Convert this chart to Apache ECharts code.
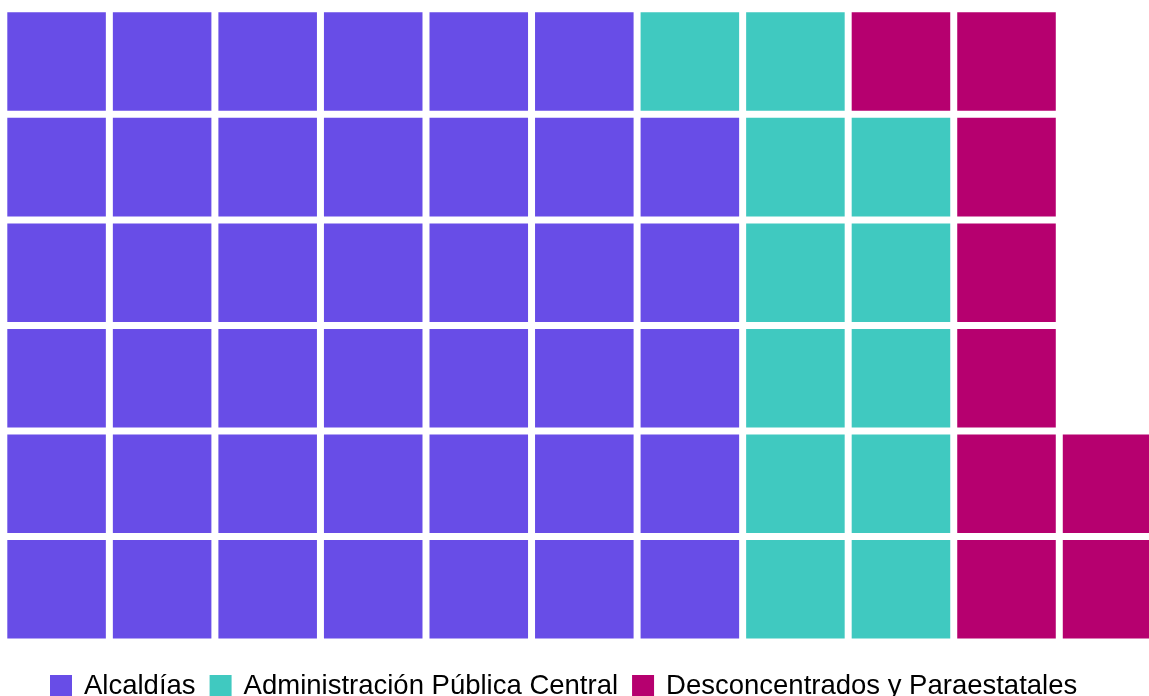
<!DOCTYPE html>
<html>
<head>
<meta charset="utf-8">
<script src="https://cdn.jsdelivr.net/npm/echarts@6/dist/echarts.min.js"></script>
<style>
html,body{margin:0;padding:0;background:#fff;}
#main{width:1149px;height:696px;}
</style>
</head>
<body>
<div id="main"></div>
<script>
// Waffle chart data
const categories = ['Alcaldías', 'Administración Pública Central', 'Desconcentrados y Paraestatales'];
const counts = [41, 12, 9];
const colors = ['#684DE7', '#40C9C0', '#B6006F'];
const nRows = 6;
const nCols = 11;

// build cell lists (filled column by column, bottom to top)
const cellsBySeries = [];
let k = 0;
for (let s = 0; s < counts.length; s++) {
  const arr = [];
  for (let i = 0; i < counts[s]; i++) {
    const col = Math.floor(k / nRows);
    const row = k % nRows;
    arr.push([col, row]);
    k++;
  }
  cellsBySeries.push(arr);
}

const GAP = 7;
function renderCell(params, api) {
  const c = api.coord([api.value(0), api.value(1)]);
  const sz = api.size([1, 1]);
  return {
    type: 'rect',
    shape: {
      x: c[0] - sz[0] / 2 + GAP / 2,
      y: c[1] - sz[1] / 2 + GAP / 2,
      width: sz[0] - GAP,
      height: sz[1] - GAP
    },
    style: { fill: api.visual('color') }
  };
}

const chart = echarts.init(document.getElementById('main'));
chart.setOption({
  animation: false,
  backgroundColor: '#ffffff',
  color: colors,
  grid: { left: 3.8, top: 8.8, right: 0, height: 633.3, containLabel: false },
  xAxis: { type: 'value', min: -0.5, max: 10.35, show: false },
  yAxis: { type: 'value', min: -0.5, max: nRows - 0.5, show: false },
  legend: {
    left: 45,
    top: 667,
    icon: 'rect',
    itemWidth: 22,
    itemHeight: 22,
    itemGap: 14,
    textStyle: { fontFamily: 'Liberation Sans, Arial, sans-serif', fontSize: 27.5, color: '#000', padding: [0, 0, 0, 7] },
    data: categories
  },
  series: categories.map((name, i) => ({
    name: name,
    type: 'custom',
    renderItem: renderCell,
    clip: false,
    encode: { x: 0, y: 1 },
    data: cellsBySeries[i],
    itemStyle: { color: colors[i] }
  }))
});
</script>
</body>
</html>
